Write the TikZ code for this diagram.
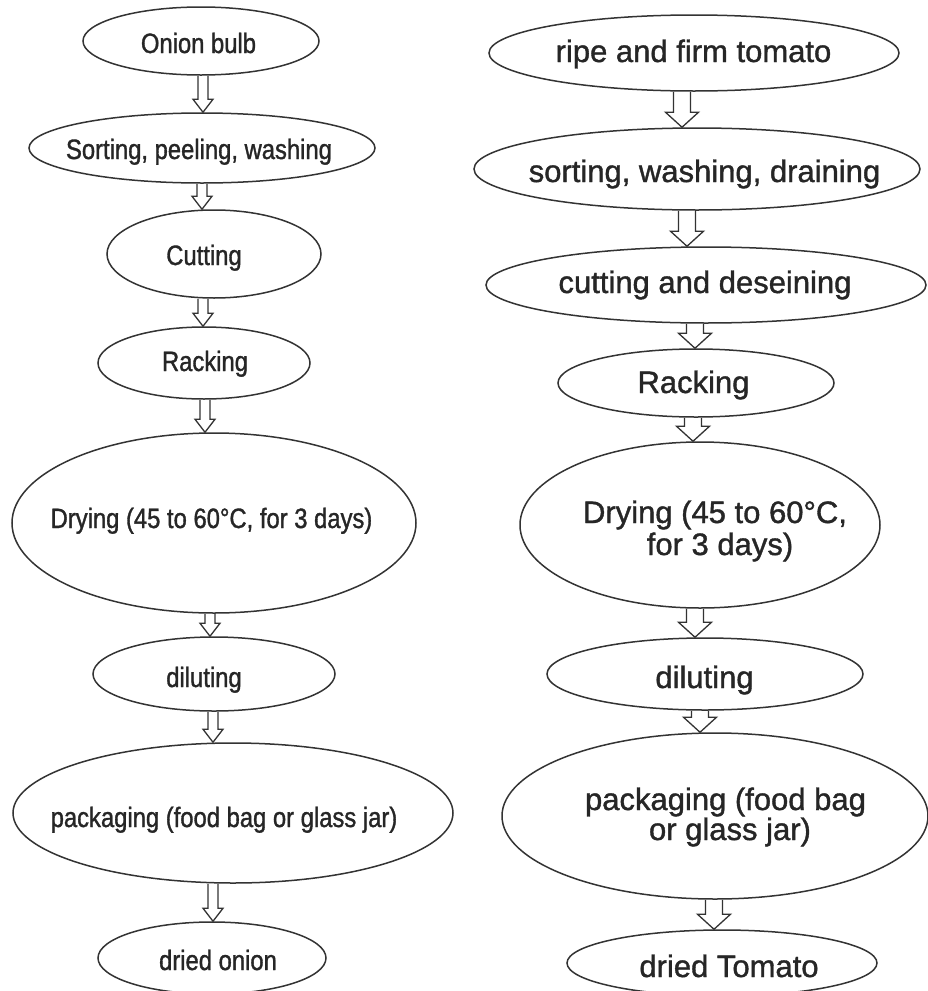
\documentclass[tikz,border=0pt]{standalone}
\usepackage{fontspec}
\setmainfont[FakeBold=1.2]{Liberation Sans}
\newfontfamily\narrowfont[FakeStretch=0.85,FakeBold=1.2]{Liberation Sans}
\usetikzlibrary{shapes.geometric,calc}
\tikzset{
  ov/.style={ellipse, draw=black!80, line width=1.5pt, inner sep=0pt, fill=none},
  tl/.style={font=\narrowfont\fontsize{28}{30}\selectfont, anchor=base, inner sep=0pt, text=black!85},
  tr/.style={font=\fontsize{31}{32}\selectfont, anchor=base, inner sep=0pt, text=black!85},
  arrowline/.style={draw=black!80, line width=1.3pt, line join=miter},
  hollowL/.style={arrowline, to path={let \p1=(\tikztostart), \p2=(\tikztotarget) in
     (\x1-5pt,\y1) -- (\x1-5pt,\y2+13pt) -- (\x1-10pt,\y2+13pt) -- (\x1,\y2)
     -- (\x1+10pt,\y2+13pt) -- (\x1+5pt,\y2+13pt) -- (\x1+5pt,\y1)}},
  hollowR/.style={arrowline, to path={let \p1=(\tikztostart), \p2=(\tikztotarget) in
     (\x1-8.5pt,\y1) -- (\x1-8.5pt,\y2+15pt) -- (\x1-16.5pt,\y2+15pt) -- (\x1,\y2)
     -- (\x1+16.5pt,\y2+15pt) -- (\x1+8.5pt,\y2+15pt) -- (\x1+8.5pt,\y1)}},
}
\begin{document}
\begin{tikzpicture}[x=1pt,y=-1pt]
\fill[white] (0,0) rectangle (927,991);
\useasboundingbox (0,0) rectangle (927,991);

% ---------- left column: onion ----------
\node[ov, minimum width=236pt, minimum height=68pt]  (L1) at (201,41)  {};
\node[ov, minimum width=346pt, minimum height=70pt]  (L2) at (202,148) {};
\node[ov, minimum width=214pt, minimum height=88pt]  (L3) at (214,254) {};
\node[ov, minimum width=212pt, minimum height=72pt]  (L4) at (204,363) {};
\node[ov, minimum width=404pt, minimum height=180pt] (L5) at (214,523) {};
\node[ov, minimum width=242pt, minimum height=74pt]  (L6) at (214,674) {};
\node[ov, minimum width=440pt, minimum height=140pt] (L7) at (233,813) {};
\node[ov, minimum width=228pt, minimum height=72pt]  (L8) at (212,958) {};

\node[tl] (tL1) at (198.5,53) {Onion bulb};
\node[tl] (tL2) at (199,159) {Sorting, peeling, washing};
\node[tl] (tL3) at (204,265) {Cutting};
\node[tl] (tL4) at (205,371) {Racking};
\node[tl] (tL5) at (211.5,528) {Drying (45 to 60°C, for 3 days)};
\node[tl] (tL6) at (204,687) {diluting};
\node[tl] (tL7) at (224,827) {packaging (food bag or glass jar)};
\node[tl] (tL8) at (218,970) {dried onion};

\draw[hollowL] ([xshift=2pt]L1.south) to (L2.north);
\draw[hollowL] (L2.south) to (L3.north);
\draw[hollowL] ([xshift=-11pt]L3.south) to (L4.north);
\draw[hollowL] ([xshift=1pt]L4.south) to (L5.north);
\draw[hollowL] ([xshift=-4pt]L5.south) to (L6.north);
\draw[hollowL] ([xshift=-1pt]L6.south) to (L7.north);
\draw[hollowL] ([xshift=-20pt]L7.south) to (L8.north);

% ---------- right column: tomato ----------
\node[ov, minimum width=410pt, minimum height=76pt]  (R1) at (694,53)  {};
\node[ov, minimum width=446pt, minimum height=82pt]  (R2) at (697,169) {};
\node[ov, minimum width=440pt, minimum height=76pt]  (R3) at (706,285) {};
\node[ov, minimum width=276pt, minimum height=68pt]  (R4) at (696,383) {};
\node[ov, minimum width=360pt, minimum height=166pt] (R5) at (700,525) {};
\node[ov, minimum width=316pt, minimum height=72pt]  (R6) at (705,674) {};
\node[ov, minimum width=426pt, minimum height=166pt] (R7) at (715,816) {};
\node[ov, minimum width=310pt, minimum height=66pt]  (R8) at (722,963) {};

\node[tr] (tR1) at (693.5,62) {ripe and firm tomato};
\node[tr] (tR2) at (704.5,182) {sorting, washing, draining};
\node[tr] (tR3) at (705,293) {cutting and deseining};
\node[tr] (tR4) at (693.5,393) {Racking};
\node[tr] (tR5a) at (715,523) {Drying (45 to 60°C,};
\node[tr] (tR5b) at (720,555) {for 3 days)};
\node[tr] (tR6) at (704.5,688) {diluting};
\node[tr] (tR7a) at (725.5,810) {packaging (food bag};
\node[tr] (tR7b) at (730,840) {or glass jar)};
\node[tr] (tR8) at (729,977) {dried Tomato};

\draw[hollowR] ([xshift=-12pt]R1.south) to (R2.north);
\draw[hollowR] ([xshift=-10pt]R2.south) to (R3.north);
\draw[hollowR] ([xshift=-11pt]R3.south) to (R4.north);
\draw[hollowR] ([xshift=-3pt]R4.south) to (R5.north);
\draw[hollowR] ([xshift=-5pt]R5.south) to (R6.north);
\draw[hollowR] ([xshift=-5pt]R6.south) to (R7.north);
\draw[hollowR] ([xshift=-1pt]R7.south) to (R8.north);
\end{tikzpicture}
\end{document}
